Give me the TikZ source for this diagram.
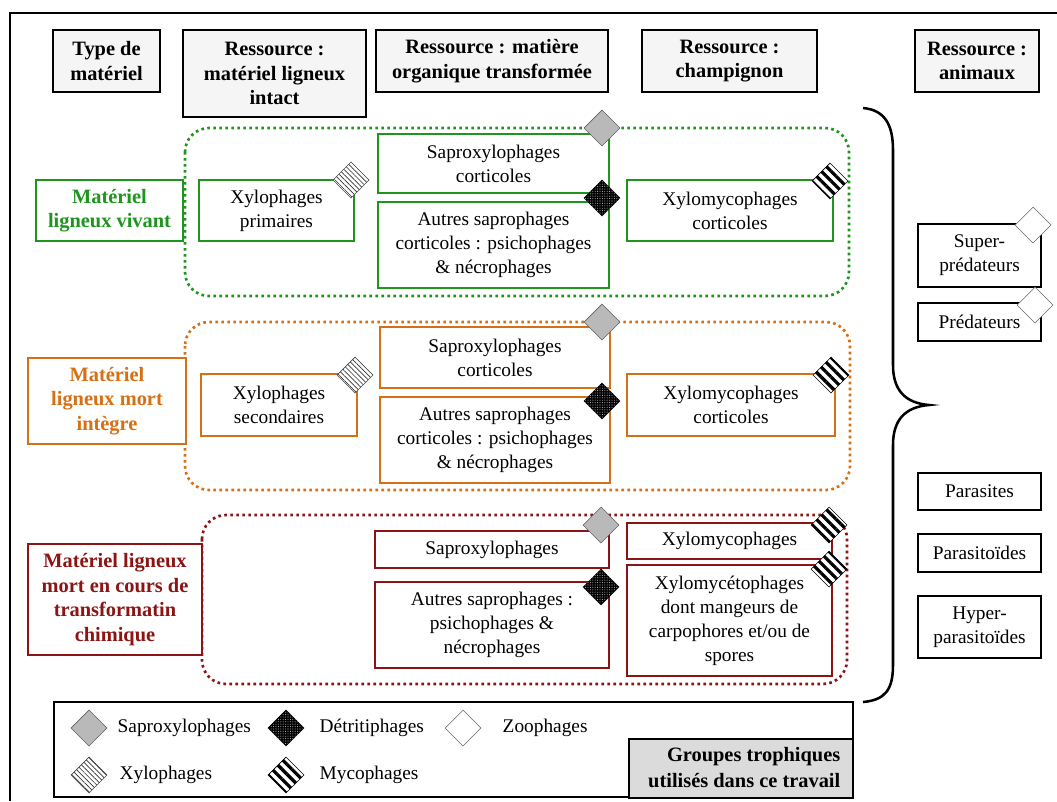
\documentclass[tikz,border=0pt]{standalone}
\usepackage{fontspec}
\setmainfont{Liberation Serif}
\usetikzlibrary{shapes.geometric,patterns.meta}
\definecolor{vivant}{RGB}{30,150,30}
\definecolor{mort}{RGB}{214,112,20}
\definecolor{chim}{RGB}{140,20,20}
\tikzset{
  every node/.style={font=\fontsize{14.5}{18}\selectfont},
  hdr/.style={draw, line width=1.5pt, fill=gray!8, align=center, inner sep=0pt,
    font=\bfseries\fontsize{15.3}{18.4}\selectfont},
  lvl/.style={draw=#1, text=#1, line width=1.5pt, fill=white, align=center, inner sep=0pt,
    font=\bfseries\fontsize{15.3}{18.4}\selectfont},
  cbox/.style={draw=#1, line width=1.5pt, fill=white, align=center, inner sep=0pt},
  grp/.style={draw=#1, line width=2pt, dash pattern=on 2pt off 2.5pt, rounded corners=18pt},
  dmd/.style={diamond, minimum size=27pt, inner sep=0pt},
  sapro/.style={dmd, draw=gray!75!black, fill=gray!55},
  detri/.style={dmd, draw=black, fill=black,
    postaction={pattern={Dots[distance=1.8pt, radius=0.4pt]}, pattern color=gray!60}},
  zoo/.style={dmd, draw=gray!80!black, fill=white},
  xylo/.style={dmd, draw=black!70, fill=white,
    postaction={pattern={Lines[angle=-45, distance=2.6pt, line width=0.5pt]}, pattern color=black!80}},
  myco/.style={dmd, draw=black, fill=white,
    postaction={pattern={Lines[angle=-45, distance=5.2pt, line width=2.4pt]}, pattern color=black}}
}
\begin{document}
\begin{tikzpicture}[x=0.75pt, y=-0.75pt]
    \useasboundingbox (0,0) rectangle (1057,801);
    \draw[line width=1.5pt] (10,801) -- (10,13) -- (1057,13);

    % en-tetes
    \node[hdr, minimum width=80.25pt, minimum height=46.5pt] (type) at (106.5,61) {Type de\\matériel};
    \node[hdr, minimum width=137.25pt, minimum height=65.25pt] (intact) at (274.5,73.5) {Ressource :\\matériel ligneux\\intact};
    \node[hdr, minimum width=174pt, minimum height=46.5pt] (transf) at (492,61) {Ressource : matière\\organique transformée};
    \node[hdr, minimum width=131.25pt, minimum height=46.5pt] (champ) at (729.5,61) {Ressource :\\champignon};
    \node[hdr, minimum width=93pt, minimum height=46.5pt] (anim) at (977,61) {Ressource :\\animaux};

    % groupes
    \draw[grp=vivant] (185,128) rectangle (849,296);
    \draw[grp=mort] (185,322) rectangle (850,490);
    \draw[grp=chim] (202,515) rectangle (847,684);

    % materiel ligneux vivant
    \node[lvl=vivant, minimum width=110.25pt, minimum height=45.75pt] (vivant) at (109.5,210.5) {Matériel\\ligneux vivant};
    \node[cbox=vivant, minimum width=116.25pt, minimum height=45.75pt] (xyloI) at (276.5,210.5) {Xylophages\\primaires};
    \node[cbox=vivant, minimum width=173.25pt, minimum height=44.25pt] (saproV) at (493.5,163.5) {Saproxylophages\\corticoles};
    \node[cbox=vivant, minimum width=173.25pt, minimum height=64.5pt] (autresV) at (493.5,245) {Autres saprophages\\corticoles : psichophages\\\& nécrophages};
    \node[cbox=vivant, minimum width=154.5pt, minimum height=45.75pt] (xmV) at (730,210.5) {Xylomycophages\\corticoles};
    \node[xylo] (dxV) at (351,180) {};
    \node[sapro] (dsV) at (602,128) {};
    \node[detri] (ddV) at (602,198) {};
    \node[myco] (dmV) at (830,181) {};

    % materiel ligneux mort integre
    \node[lvl=mort, minimum width=118.5pt, minimum height=64.5pt] (integre) at (107,401) {Matériel\\ligneux mort\\intègre};
    \node[cbox=mort, minimum width=117pt, minimum height=46.5pt] (xyloII) at (279,405) {Xylophages\\secondaires};
    \node[cbox=mort, minimum width=172.5pt, minimum height=45.75pt] (saproM) at (495,357.5) {Saproxylophages\\corticoles};
    \node[cbox=mort, minimum width=172.5pt, minimum height=64.5pt] (autresM) at (495,440) {Autres saprophages\\corticoles : psichophages\\\& nécrophages};
    \node[cbox=mort, minimum width=156pt, minimum height=46.5pt] (xmM) at (731,405) {Xylomycophages\\corticoles};
    \node[xylo] (dxM) at (355,375) {};
    \node[sapro] (dsM) at (602,322) {};
    \node[detri] (ddM) at (602,401) {};
    \node[myco] (dmM) at (831,375) {};

    % materiel en cours de transformation
    \node[lvl=chim, minimum width=130.5pt, minimum height=83.25pt] (chimique) at (115,599.5) {Matériel ligneux\\mort en cours de\\transformatin\\chimique};
    \node[cbox=chim, minimum width=175.5pt, minimum height=27.75pt] (saproC) at (492,549.5) {Saproxylophages};
    \node[cbox=chim, minimum width=175.5pt, minimum height=64.5pt] (autresC) at (492,625) {Autres saprophages :\\psichophages \&\\nécrophages};
    \node[cbox=chim, minimum width=153.75pt, minimum height=27pt] (xmC) at (729.5,541) {Xylomycophages};
    \node[cbox=chim, minimum width=153.75pt, minimum height=83.25pt] (xmcC) at (729.5,620.5) {Xylomycétophages\\dont mangeurs de\\carpophores et/ou de\\spores};
    \node[sapro] (dsC) at (601,525) {};
    \node[detri] (ddC) at (601,587) {};
    \node[myco] (dmC) at (829,525) {};
    \node[myco] (dmcC) at (829,569) {};

    % accolade
    \draw[line width=1.9pt] (863,108) .. controls (885,110) and (893,125) .. (893,150) -- (893,365)
        .. controls (893,390) and (905,403) .. (929,405) .. controls (905,407) and (893,420) .. (893,445)
        -- (893,665) .. controls (893,690) and (885,700) .. (863,702);

    % animaux
    \node[cbox=black, minimum width=92.25pt, minimum height=47.25pt] (super) at (979.5,255.5) {Super-\\prédateurs};
    \node[cbox=black, minimum width=92.25pt, minimum height=28.5pt] (pred) at (979.5,322) {Prédateurs};
    \node[cbox=black, minimum width=92.25pt, minimum height=27.75pt] (paras) at (979.5,491.5) {Parasites};
    \node[cbox=black, minimum width=92.25pt, minimum height=28.5pt] (parasito) at (979.5,553) {Parasitoïdes};
    \node[cbox=black, minimum width=92.25pt, minimum height=46.5pt] (hyper) at (979.5,627) {Hyper-\\parasitoïdes};
    \node[zoo] (dzS) at (1033,225) {};
    \node[zoo] (dzP) at (1035,305) {};

    % legende
    \draw[line width=0.8pt] (54,702) rectangle (853,797);
    \draw[line width=0.8pt, fill=gray!28] (629,739) rectangle (853,798);
    \node[anchor=east, align=right, font=\bfseries\fontsize{15.3}{19.5}\selectfont] (groupes) at (845,768) {Groupes trophiques\\utilisés dans ce travail};
    \node[sapro] (lsapro) at (89,728) {};
    \node[anchor=west] (tsapro) at (113,728) {Saproxylophages};
    \node[detri] (ldetri) at (286,728) {};
    \node[anchor=west] (tdetri) at (315,728) {Détritiphages};
    \node[zoo] (lzoo) at (463,728) {};
    \node[anchor=west] (tzoo) at (498,728) {Zoophages};
    \node[xylo] (lxylo) at (89,775) {};
    \node[anchor=west] (txylo) at (115,775) {Xylophages};
    \node[myco] (lmyco) at (286,775) {};
    \node[anchor=west] (tmyco) at (315,775) {Mycophages};
\end{tikzpicture}
\end{document}
